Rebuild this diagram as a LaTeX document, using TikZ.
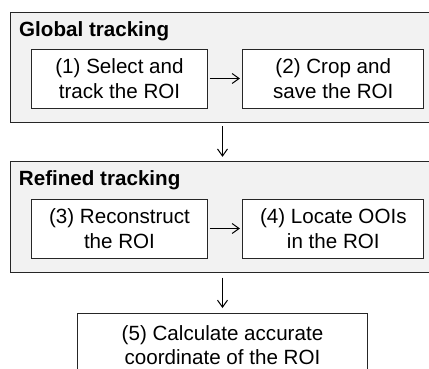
\documentclass[tikz,border=0pt]{standalone}
\usepackage{fontspec}
\setmainfont{Liberation Sans}
\usetikzlibrary{arrows.meta}
\definecolor{groupfill}{HTML}{F2F2F2}
\definecolor{linecol}{HTML}{262626}
\tikzset{
  groupbox/.style={draw=linecol, line width=1bp, fill=groupfill, inner sep=0pt, anchor=north west},
  stepbox/.style={draw=linecol, line width=1bp, fill=white, inner sep=0pt, align=center,
    font=\fontsize{20.6bp}{24.7bp}\selectfont},
  grouptitle/.style={inner sep=0pt, anchor=base west, font=\fontsize{20.6bp}{24.7bp}\selectfont\bfseries},
  flow/.style={draw=black, line width=1bp, -{Straight Barb[length=7bp,width=10bp,line width=1bp]}}
}
\begin{document}
\begin{tikzpicture}[x=1bp,y=-1bp]
\useasboundingbox (0,0) rectangle (429,369);
\clip (0,0) rectangle (429,369);
% groups
\node[groupbox, minimum width=418bp, minimum height=110bp] (g1) at (10.5,12.2) {};
\node[groupbox, minimum width=418bp, minimum height=111bp] (g2) at (10.5,160.8) {};
\node[grouptitle] (t1) at (19,36.3) {Global tracking};
\node[grouptitle] (t2) at (18.8,185.5) {Refined tracking};
% steps
\node[stepbox, minimum width=175bp, minimum height=59bp] (b1) at (119.5,78.5) {(1) Select and\\track the ROI};
\node[stepbox, minimum width=180.7bp, minimum height=59bp] (b2) at (333.3,78.5) {(2) Crop and\\save the ROI};
\node[stepbox, minimum width=175bp, minimum height=59bp] (b3) at (119.5,228.5) {(3) Reconstruct\\the ROI};
\node[stepbox, minimum width=180.7bp, minimum height=59bp] (b4) at (333.3,228.5) {(4) Locate OOIs\\in the ROI};
\node[stepbox, minimum width=290bp, minimum height=63bp] (b5) at (222.5,345) {(5) Calculate accurate\\coordinate of the ROI};
% connectors
\draw[flow, shorten <=2bp, shorten >=2.5bp] (b1.east) -- (b2.west);
\draw[flow, shorten <=2bp, shorten >=2.5bp] (b3.east) -- (b4.west);
\draw[flow, shorten <=3bp, shorten >=4bp] (b5.north |- g1.south) -- (b5.north |- g2.north);
\draw[flow, shorten <=4.7bp, shorten >=5bp] (b5.north |- g2.south) -- (b5.north);
\end{tikzpicture}
\end{document}
